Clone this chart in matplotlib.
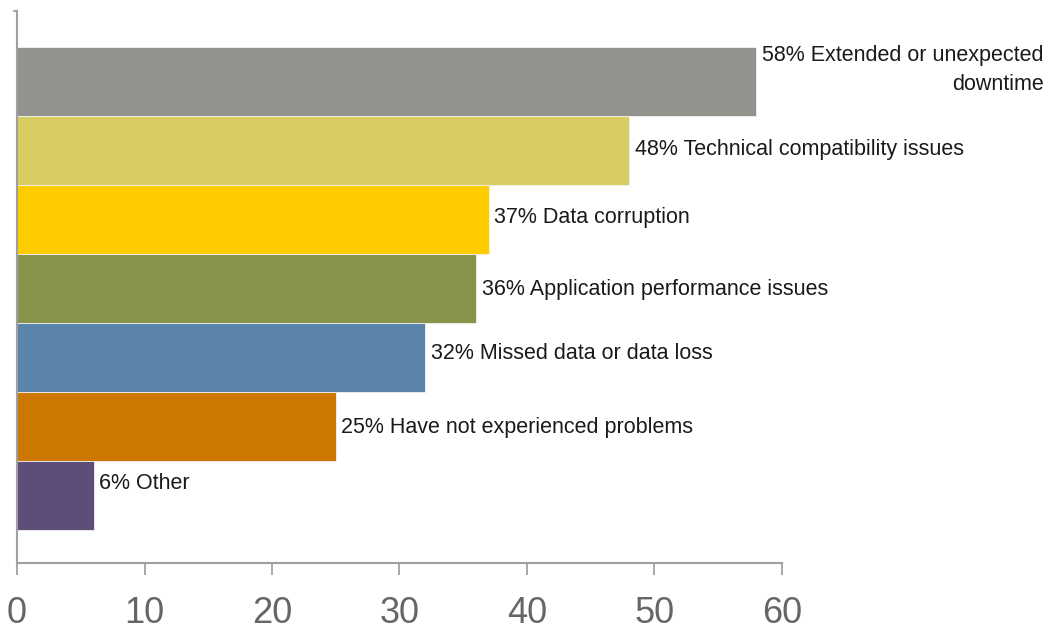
import matplotlib
matplotlib.use("Agg")
import matplotlib.pyplot as plt

# values (top to bottom)
percents = [58, 48, 37, 36, 32, 25, 6]
labels = [
    "Extended or unexpected\ndowntime",
    "Technical compatibility issues",
    "Data corruption",
    "Application performance issues",
    "Missed data or data loss",
    "Have not experienced problems",
    "Other",
]
colors = ["#93938d", "#d9cc60", "#ffcc00", "#89944a", "#5a84aa", "#cc7800", "#5c4e78"]
x_ticks = [0, 10, 20, 30, 40, 50, 60]

# small vertical nudges (points) so labels sit as in the original
label_dy = [8.5, 0.5, 1, -1, 3, -1, 8.5]

plt.rcParams['font.family'] = ['Liberation Sans', 'DejaVu Sans']

fig = plt.figure(figsize=(10.57, 6.36), dpi=100)
ax = fig.add_axes([0.0161, 0.1148, 0.7237, 0.8679])

pos = list(range(len(percents)))
ax.barh(pos, percents, height=1.0, color=colors, edgecolor="#f2f2f2", linewidth=0.6)

for y, pct, lab, dy in zip(pos, percents, labels, label_dy):
    ax.annotate(f"{pct}% {lab}", xy=(pct, y), xytext=(4, dy), textcoords="offset points",
                ha="left", va="center", multialignment="right", linespacing=1.5,
                fontsize=15.5, color="#1a1a1a", annotation_clip=False)

ax.set_xlim(0, 60)
ax.set_ylim(6.98, -1.02)
ax.set_xticks(x_ticks)
ax.set_xticklabels([str(v) for v in x_ticks], fontsize=26, color="#666666")
ax.tick_params(axis="x", length=8.5, width=1.2, color="#999999", pad=15, direction="out")
ax.set_yticks([-1.02])
ax.set_yticklabels([])
ax.tick_params(axis="y", length=3, width=1.2, color="#999999")

for side in ["top", "right"]:
    ax.spines[side].set_visible(False)
for side in ["left", "bottom"]:
    ax.spines[side].set_color("#a0a0a0")
    ax.spines[side].set_linewidth(1.5)

fig.savefig("out.png", dpi=100)
